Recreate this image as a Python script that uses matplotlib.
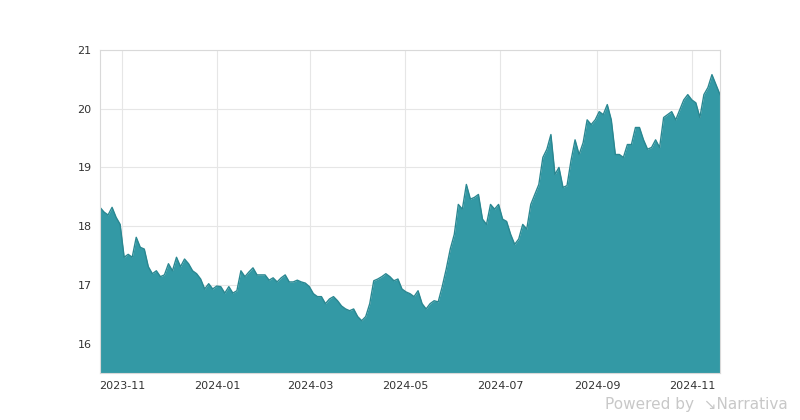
import pandas as pd
import matplotlib.pyplot as plt
import matplotlib.dates as mdates

# =========================
# DATA
# =========================
START = "2023-10-18"
END = "2024-11-19"
values = [
    18.32, 18.24, 18.19, 18.32, 18.15, 18.03, 17.47, 17.52, 17.47, 17.81,
    17.64, 17.61, 17.31, 17.19, 17.24, 17.14, 17.17, 17.36, 17.24, 17.47,
    17.31, 17.44, 17.36, 17.24, 17.19, 17.10, 16.93, 17.02, 16.93, 16.98,
    16.97, 16.86, 16.97, 16.86, 16.90, 17.24, 17.14, 17.22, 17.29, 17.17,
    17.17, 17.17, 17.08, 17.12, 17.05, 17.12, 17.17, 17.05, 17.05, 17.08,
    17.05, 17.03, 16.97, 16.85, 16.80, 16.80, 16.68, 16.76, 16.80, 16.73,
    16.64, 16.59, 16.56, 16.59, 16.46, 16.39, 16.46, 16.68, 17.07, 17.10,
    17.14, 17.19, 17.14, 17.07, 17.10, 16.93, 16.88, 16.85, 16.80, 16.90,
    16.68, 16.59, 16.68, 16.73, 16.71, 16.97, 17.27, 17.61, 17.86, 18.37,
    18.29, 18.71, 18.46, 18.49, 18.54, 18.12, 18.03, 18.37, 18.29, 18.37,
    18.12, 18.08, 17.86, 17.69, 17.78, 18.03, 17.95, 18.37, 18.54, 18.71,
    19.17, 19.31, 19.56, 18.88, 19.00, 18.66, 18.69, 19.12, 19.47, 19.22,
    19.42, 19.81, 19.73, 19.81, 19.95, 19.90, 20.07, 19.81, 19.22, 19.22,
    19.17, 19.39, 19.39, 19.68, 19.68, 19.47, 19.31, 19.34, 19.47, 19.34,
    19.85, 19.90, 19.95, 19.81, 19.98, 20.15, 20.24, 20.15, 20.10, 19.85,
    20.24, 20.36, 20.58, 20.41, 20.24,
]
dates = pd.date_range(START, END, periods=len(values))

y_ticks = [16, 17, 18, 19, 20, 21]
x_ticks = ["2023-11-01", "2024-01-01", "2024-03-01", "2024-05-01",
           "2024-07-01", "2024-09-01", "2024-11-01"]

FILL = "#3399a5"
LINE = "#2a8791"

# =========================
# PLOT
# =========================
fig = plt.figure(figsize=(8, 4.2), dpi=100)
ax = fig.add_axes([0.125, 0.112, 0.775, 0.769])

ax.fill_between(dates, values, 15.5, color=FILL, linewidth=0)
ax.plot(dates, values, color=LINE, linewidth=1)

ax.set_xlim(pd.Timestamp(START), pd.Timestamp(END))
ax.set_ylim(15.5, 21)
ax.set_yticks(y_ticks)
ax.set_xticks(pd.to_datetime(x_ticks))
ax.xaxis.set_major_formatter(mdates.DateFormatter("%Y-%m"))

ax.grid(True, color="#e6e6e6", linewidth=0.8)
ax.set_axisbelow(True)
for s in ax.spines.values():
    s.set_color("#d9d9d9")
ax.tick_params(length=0, labelsize=8, colors="#333333", pad=6)

fig.text(0.985, 0.02, "Powered by  \u2198Narrativa", ha="right", va="bottom",
         fontsize=11, color="#c8c8c8")

fig.savefig("out.png", dpi=100)
